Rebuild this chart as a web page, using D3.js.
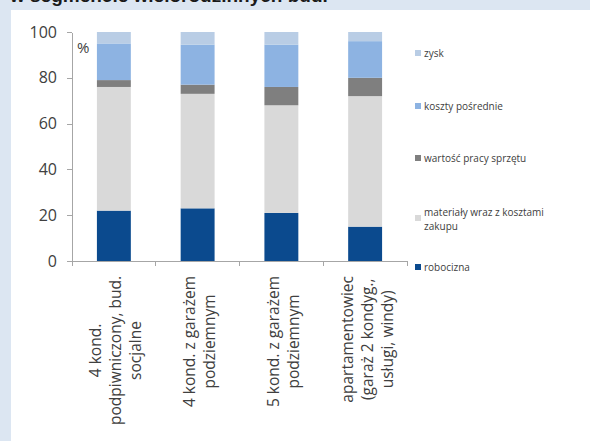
<!DOCTYPE html>
<html>
<head>
<meta charset="utf-8">
<script src="https://cdn.jsdelivr.net/npm/d3@7"></script>
<style>
body { margin: 0; background: #dce6f2; }
.axis path, .axis line { stroke: #a6a6a6; fill: none; shape-rendering: crispEdges; }
.axis text { font-family: "Open Sans", sans-serif; font-size: 16px; fill: #404040; }
.xlab { font-family: "Open Sans", sans-serif; font-size: 15.5px; fill: #404040; }
.leg { font-family: "Open Sans", sans-serif; font-size: 10px; fill: #404040; }
</style>
</head>
<body>
<script>
// categories (each label broken into its lines)
const categories = [
  ["4 kond.", "podpiwniczony, bud.", "socjalne"],
  ["4 kond. z garażem", "podziemnym"],
  ["5 kond. z garażem", "podziemnym"],
  ["apartamentowiec", "(garaż 2 kondyg.,", "usługi, windy)"]
];
const seriesNames = ["robocizna", "materiały wraz z kosztami zakupu", "wartość pracy sprzętu", "koszty pośrednie", "zysk"];
const robocizna = [22, 23, 21, 15];
const materialy = [54, 50, 47, 57];
const sprzet    = [3, 4, 8, 8];
const koszty    = [16, 17.5, 18.5, 16];
const zysk      = [5, 5.5, 5.5, 4];
const yTicks = [0, 20, 40, 60, 80, 100];

const colors = ["#0b4a8e", "#d9d9d9", "#7f7f7f", "#8db3e2", "#b9cde5"];

const W = 590, H = 441;
const svg = d3.select("body").append("svg").attr("width", W).attr("height", H);

// clipped title of the slide above the chart
svg.append("text")
   .attr("x", 10).attr("y", 2)
   .attr("font-family", "Liberation Sans, Arial, sans-serif")
   .attr("font-weight", "bold")
   .attr("font-size", 19)
   .attr("fill", "#1a1a1a")
   .text("w segmencie wielorodzinnych bud.");

svg.append("rect").attr("x", 11).attr("y", 10).attr("width", W - 11).attr("height", H - 10).attr("fill", "white");

const keys = seriesNames.map((d, i) => i);
const rows = categories.map((c, i) => ({
  cat: i, 0: robocizna[i], 1: materialy[i], 2: sprzet[i], 3: koszty[i], 4: zysk[i]
}));
const stacked = d3.stack().keys(keys)(rows);

const plot = {left: 72, right: 407, top: 32, bottom: 261};

const x = d3.scaleBand()
            .domain(categories.map((d, i) => i))
            .range([plot.left, plot.right])
            .paddingInner(0.595)
            .paddingOuter(0.2975);
const xb = d3.scaleBand().domain(x.domain()).range([plot.left, plot.right]);
const y = d3.scaleLinear().domain([0, 100]).range([plot.bottom, plot.top]);

svg.selectAll("g.layer").data(stacked).enter()
   .append("g").attr("class", "layer")
   .attr("fill", (d, i) => colors[i])
   .selectAll("rect").data(d => d).enter()
   .append("rect")
   .attr("x", d => x(d.data.cat))
   .attr("width", x.bandwidth())
   .attr("y", d => y(d[1]))
   .attr("height", d => y(d[0]) - y(d[1]));

// y axis
const yAxis = d3.axisLeft(y).tickValues(yTicks).tickSize(5).tickSizeOuter(0).tickPadding(10);
svg.append("g").attr("class", "axis")
   .attr("transform", `translate(${plot.left},0)`)
   .call(yAxis);

// x axis line with ticks at category boundaries
const gx = svg.append("g").attr("class", "axis");
gx.append("line")
  .attr("x1", plot.left).attr("x2", plot.right)
  .attr("y1", plot.bottom).attr("y2", plot.bottom);
const bounds = xb.domain().map(d => xb(d)).concat([plot.right]);
gx.selectAll("line.tk").data(bounds).enter()
  .append("line").attr("class", "tk")
  .attr("x1", d => d).attr("x2", d => d)
  .attr("y1", plot.bottom).attr("y2", plot.bottom + 5);

svg.append("text")
   .attr("x", 77).attr("y", 53)
   .attr("font-family", "Open Sans, sans-serif")
   .attr("font-size", 15)
   .attr("fill", "#404040")
   .text("%");

// rotated category labels
const lineH = 20;
categories.forEach((lines, i) => {
  const cx = xb(i) + xb.bandwidth() / 2 + 2;
  const g = svg.append("g")
               .attr("class", "xlab")
               .attr("transform", `translate(${cx},276) rotate(-90)`);
  const t = g.selectAll("text").data(lines).enter()
             .append("text")
             .attr("text-anchor", "middle")
             .attr("y", (d, j) => (j - (lines.length - 1) / 2) * lineH)
             .attr("dy", "0.35em")
             .text(d => d);
  const maxLen = d3.max(t.nodes(), n => n.getComputedTextLength());
  t.attr("x", -maxLen / 2);
});

// legend
const legY = [267, 218, 158, 106, 53];
const leg = svg.selectAll("g.legend").data(seriesNames).enter()
   .append("g").attr("class", "legend")
   .attr("transform", (d, i) => `translate(415,${legY[i]})`);
leg.append("rect")
   .attr("x", 0).attr("y", -3).attr("width", 6).attr("height", 6)
   .attr("fill", (d, i) => colors[i]);
leg.each(function(d, i) {
  const parts = i === 1 ? ["materiały wraz z kosztami", "zakupu"] : [d];
  const off = i === 1 ? -6 : 0;
  d3.select(this).selectAll("text").data(parts).enter()
    .append("text").attr("class", "leg")
    .attr("x", 9)
    .attr("y", (p, j) => off + j * 14)
    .attr("dy", "0.35em")
    .text(p => p);
});
</script>
</body>
</html>
